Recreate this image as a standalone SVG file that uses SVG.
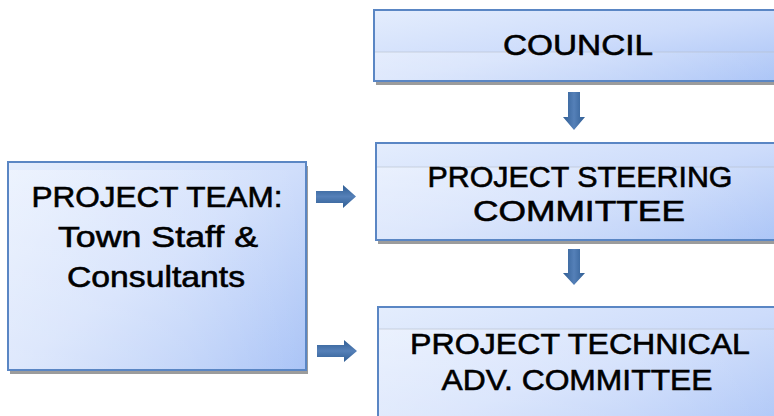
<svg xmlns="http://www.w3.org/2000/svg" width="774" height="416" viewBox="0 0 774 416">
  <defs>
    <linearGradient id="boxFill" x1="0" y1="0" x2="1" y2="1">
      <stop offset="0" stop-color="#e4edfd"/>
      <stop offset="0.5" stop-color="#cddcfb"/>
      <stop offset="1" stop-color="#a6c1f6"/>
    </linearGradient>
    <linearGradient id="shine" x1="0" y1="0" x2="1" y2="0">
      <stop offset="0" stop-color="#ffffff" stop-opacity="0.35"/>
      <stop offset="0.6" stop-color="#ffffff" stop-opacity="0.2"/>
      <stop offset="1" stop-color="#ffffff" stop-opacity="0.05"/>
    </linearGradient>
    <linearGradient id="arrowH" x1="0" y1="0" x2="0" y2="1">
      <stop offset="0" stop-color="#2f5d93"/>
      <stop offset="0.5" stop-color="#5580b8"/>
      <stop offset="1" stop-color="#2f5d93"/>
    </linearGradient>
    <linearGradient id="arrowV" x1="0" y1="0" x2="1" y2="0">
      <stop offset="0" stop-color="#2f5d93"/>
      <stop offset="0.5" stop-color="#5580b8"/>
      <stop offset="1" stop-color="#2f5d93"/>
    </linearGradient>
  </defs>
  <style>
    .shadow { fill: #9c9c9c; }
    .box { fill: url(#boxFill); stroke: #5a86c4; stroke-width: 2; }
    .gloss { fill: url(#shine); }
    .gline { stroke: #b7bfcc; stroke-width: 1; opacity: 0.6; }
    .label { font-family: "Liberation Sans", Arial, sans-serif; font-size: 30px; fill: #000; stroke: #000; stroke-width: 0.6; text-anchor: middle; }
    .ah { fill: url(#arrowH); }
    .av { fill: url(#arrowV); }
  </style>

  <g id="council">
    <rect class="shadow" x="376" y="14" width="410" height="71"/>
    <rect class="box" x="374" y="10" width="410" height="71"/>
    <rect class="gloss" x="375" y="52" width="408" height="28"/>
    <line class="gline" x1="375" y1="52" x2="783" y2="52"/>
    <text class="label" x="578" y="55" textLength="150" lengthAdjust="spacingAndGlyphs">COUNCIL</text>
  </g>

  <g id="steering">
    <rect class="shadow" x="378" y="147" width="410" height="97"/>
    <rect class="box" x="376" y="143" width="410" height="97"/>
    <rect class="gloss" x="377" y="167" width="408" height="72"/>
    <line class="gline" x1="377" y1="167" x2="785" y2="167"/>
    <text class="label" x="580" y="187" textLength="305" lengthAdjust="spacingAndGlyphs">PROJECT STEERING</text>
    <text class="label" x="579" y="221" textLength="212" lengthAdjust="spacingAndGlyphs">COMMITTEE</text>
  </g>

  <g id="technical">
    <rect class="shadow" x="380" y="311" width="410" height="130"/>
    <rect class="box" x="378" y="307" width="410" height="130"/>
    <rect class="gloss" x="379" y="329" width="408" height="100"/>
    <line class="gline" x1="379" y1="329" x2="787" y2="329"/>
    <text class="label" x="580" y="354" textLength="340" lengthAdjust="spacingAndGlyphs">PROJECT TECHNICAL</text>
    <text class="label" x="577" y="390" textLength="271" lengthAdjust="spacingAndGlyphs">ADV. COMMITTEE</text>
  </g>

  <g id="team">
    <rect class="shadow" x="10" y="166" width="298" height="208"/>
    <rect class="box" x="8" y="162" width="298" height="208"/>
    <rect class="gloss" x="9" y="170" width="296" height="199"/>
    <text class="label" x="157" y="207" textLength="251" lengthAdjust="spacingAndGlyphs">PROJECT TEAM:</text>
    <text class="label" x="158" y="247" textLength="200" lengthAdjust="spacingAndGlyphs">Town Staff &amp;</text>
    <text class="label" x="156" y="287" textLength="178" lengthAdjust="spacingAndGlyphs">Consultants</text>
  </g>

  <g id="connectors">
    <polygon class="av" points="568,92 580,92 580,117 585,117 574,130 563,117 568,117"/>
    <polygon class="av" points="568,249 580,249 580,273 585,273 574,285 563,273 568,273"/>
    <polygon class="ah" points="316,191 343,191 343,185 356,196.5 343,208 343,203 316,203"/>
    <polygon class="ah" points="317,345 344,345 344,340 357,351 344,362 344,357 317,357"/>
  </g>
</svg>
